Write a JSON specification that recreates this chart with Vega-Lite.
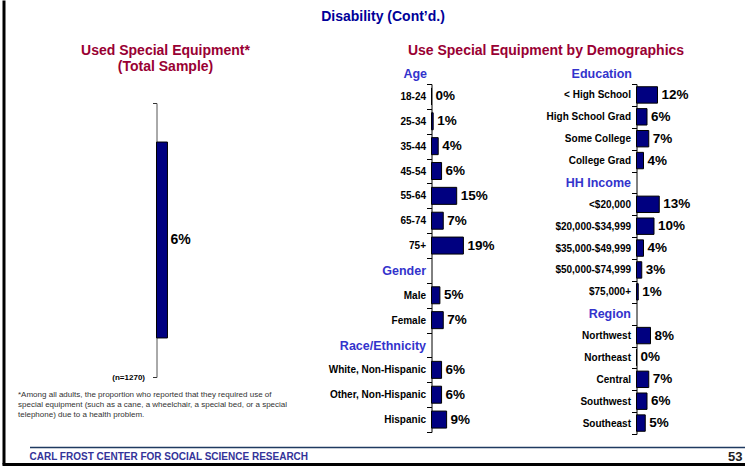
{
  "$schema": "https://vega.github.io/schema/vega-lite/v6.json",
  "background": "white",
  "padding": {"left": 3.5, "top": 10, "right": 0, "bottom": 0},
  "title": {"text": "Disability (Cont’d.)", "frame": "group", "anchor": "start", "align": "center", "dx": 226.5, "offset": 5, "baseline": "bottom", "fontSize": 14, "fontWeight": "bold", "color": "#000099", "font": "Liberation Sans"},
  "columns": 3,
  "spacing": {"column": 116, "row": 13},
  "bounds": "flush",
  "config": {"view": {"stroke": null}, "font": "Liberation Sans"},
  "concat": [
    {
      "width": 159,
      "height": 350,
      "data": {"values": [{"group": "Total Sample", "value": 0.06}]},
      "encoding": {
        "y": {"field": "group", "type": "nominal", "scale": {"range": [19, 293], "paddingInner": 0, "paddingOuter": 0},
              "axis": {"title": "(n=1270)", "titleAngle": 0, "titleX": -12, "titleY": 293, "titleAlign": "right", "titleBaseline": "middle", "titleFontSize": 8, "titleFontWeight": "bold", "titleColor": "#000000", "labels": false, "ticks": true, "tickBand": "extent", "tickSize": 4, "tickColor": "#333333", "domainColor": "#555555", "domainWidth": 1}}
      },
      "resolve": {"axis": {"x": "independent"}},
      "layer": [
        {"mark": {"type": "bar", "fill": "#000080", "stroke": "#000000", "strokeWidth": 1, "height": {"band": 0.715}},
         "encoding": {"x": {"field": "value", "type": "quantitative", "scale": {"domain": [0, 0.87]},
              "axis": {"orient": "top", "domain": false, "ticks": false, "labels": false, "grid": false, "title": ["Used Special Equipment*", "(Total Sample)"], "titleX": 8.5, "titleY": -41, "titleAlign": "center", "titleBaseline": "top", "titleAngle": 0, "titleFontSize": 14, "titleLineHeight": 16, "titleFontWeight": "bold", "titleColor": "#990033"}}}},
        {"mark": {"type": "text", "align": "left", "baseline": "middle", "dx": 3, "fontSize": 14, "fontWeight": "bold", "color": "#000000"},
         "encoding": {
           "x": {"field": "value", "type": "quantitative", "scale": {"domain": [0, 0.87]},
              "axis": {"orient": "bottom", "domain": false, "ticks": false, "labels": false, "grid": false, "title": ["*Among all adults, the proportion who reported that they required use of", "special equipment (such as a cane, a wheelchair, a special bed, or a special", "telephone) due to a health problem."], "titleX": -139, "titleY": -43.5, "titleAlign": "left", "titleBaseline": "top", "titleAngle": 0, "titleFontSize": 8, "titleFontWeight": "normal", "titleColor": "#333333", "titleLineHeight": 10}},
           "text": {"field": "value", "type": "quantitative", "format": ".0%"}}}
      ]
    },
    {
      "width": 89,
      "height": 348,
      "data": {"values": [
        {"cat": "18-24", "value": 0.00},
        {"cat": "25-34", "value": 0.01},
        {"cat": "35-44", "value": 0.04},
        {"cat": "45-54", "value": 0.06},
        {"cat": "55-64", "value": 0.15},
        {"cat": "65-74", "value": 0.07},
        {"cat": "75+", "value": 0.19},
        {"cat": "Male", "value": 0.05},
        {"cat": "Female", "value": 0.07},
        {"cat": "White, Non-Hispanic", "value": 0.06},
        {"cat": "Other, Non-Hispanic", "value": 0.06},
        {"cat": "Hispanic", "value": 0.09}
      ]},
      "encoding": {
        "y": {"field": "cat", "type": "nominal", "sort": null,
              "scale": {"domain": ["18-24", "25-34", "35-44", "45-54", "55-64", "65-74", "75+", "Gender", "Male", "Female", "Race/Ethnicity", "White, Non-Hispanic", "Other, Non-Hispanic", "Hispanic"], "paddingInner": 0, "paddingOuter": 0},
              "axis": {"title": null, "tickBand": "extent", "tickSize": 5, "tickColor": "#000000", "domainColor": "#000000", "domainWidth": 1, "labelPadding": 1, "labelLimit": 250, "labelFontWeight": "bold", "labelFont": "Liberation Sans",
                       "labelColor": {"condition": {"test": "indexof(['Gender','Race/Ethnicity'], datum.value) >= 0", "value": "#3333CC"}, "value": "#000000"},
                       "labelFontSize": {"condition": {"test": "indexof(['Gender','Race/Ethnicity'], datum.value) >= 0", "value": 12.5}, "value": 10}}}
      },
      "resolve": {"axis": {"x": "independent"}},
      "layer": [
        {"mark": {"type": "bar", "fill": "#000080", "stroke": "#000000", "strokeWidth": 1, "height": {"band": 0.684}},
         "encoding": {"x": {"field": "value", "type": "quantitative", "scale": {"domain": [0, 0.53]},
              "axis": {"orient": "top", "domain": false, "ticks": false, "labels": false, "grid": false, "title": "Use Special Equipment by Demographics", "titleX": 114, "titleY": -27, "titleAlign": "center", "titleBaseline": "bottom", "titleAngle": 0, "titleFontSize": 14, "titleFontWeight": "bold", "titleColor": "#990033"}}}},
        {"mark": {"type": "text", "align": "left", "baseline": "middle", "dx": 4, "fontSize": 13.5, "fontWeight": "bold", "color": "#000000"},
         "encoding": {
           "x": {"field": "value", "type": "quantitative", "scale": {"domain": [0, 0.53]},
              "axis": {"orient": "bottom", "domain": false, "ticks": false, "labels": false, "grid": false, "title": "Age", "titleX": -5, "titleY": -352, "titleAlign": "right", "titleBaseline": "bottom", "titleAngle": 0, "titleFontSize": 12.5, "titleFontWeight": "bold", "titleColor": "#3333CC"}},
           "text": {"field": "value", "type": "quantitative", "format": ".0%"}}}
      ]
    },
    {
      "width": 91,
      "height": 350,
      "data": {"values": [
        {"cat": "< High School", "value": 0.12},
        {"cat": "High School Grad", "value": 0.06},
        {"cat": "Some College", "value": 0.07},
        {"cat": "College Grad", "value": 0.04},
        {"cat": "<$20,000", "value": 0.13},
        {"cat": "$20,000-$34,999", "value": 0.10},
        {"cat": "$35,000-$49,999", "value": 0.04},
        {"cat": "$50,000-$74,999", "value": 0.03},
        {"cat": "$75,000+", "value": 0.01},
        {"cat": "Northwest", "value": 0.08},
        {"cat": "Northeast", "value": 0.00},
        {"cat": "Central", "value": 0.07},
        {"cat": "Southwest", "value": 0.06},
        {"cat": "Southeast", "value": 0.05}
      ]},
      "encoding": {
        "y": {"field": "cat", "type": "nominal", "sort": null,
              "scale": {"domain": ["< High School", "High School Grad", "Some College", "College Grad", "HH Income", "<$20,000", "$20,000-$34,999", "$35,000-$49,999", "$50,000-$74,999", "$75,000+", "Region", "Northwest", "Northeast", "Central", "Southwest", "Southeast"], "paddingInner": 0, "paddingOuter": 0},
              "axis": {"title": null, "tickBand": "extent", "tickSize": 5, "tickColor": "#000000", "domainColor": "#000000", "domainWidth": 1, "labelPadding": 1, "labelLimit": 250, "labelFontWeight": "bold", "labelFont": "Liberation Sans",
                       "labelColor": {"condition": {"test": "indexof(['HH Income','Region'], datum.value) >= 0", "value": "#3333CC"}, "value": "#000000"},
                       "labelFontSize": {"condition": {"test": "indexof(['HH Income','Region'], datum.value) >= 0", "value": 12.5}, "value": 10}}},
        "x": {"field": "value", "type": "quantitative", "scale": {"domain": [0, 0.52]},
              "axis": {"orient": "top", "domain": false, "ticks": false, "labels": false, "grid": false, "title": "Education", "titleX": -5, "titleY": -4, "titleAlign": "right", "titleBaseline": "bottom", "titleAngle": 0, "titleFontSize": 12.5, "titleFontWeight": "bold", "titleColor": "#3333CC"}}
      },
      "layer": [
        {"mark": {"type": "bar", "fill": "#000080", "stroke": "#000000", "strokeWidth": 1, "height": {"band": 0.75}}},
        {"mark": {"type": "text", "align": "left", "baseline": "middle", "dx": 4, "fontSize": 13.5, "fontWeight": "bold", "color": "#000000"},
         "encoding": {"text": {"field": "value", "type": "quantitative", "format": ".0%"}}}
      ]
    },
    {
      "width": 100,
      "height": 19,
      "resolve": {"scale": {"x": "independent", "y": "independent"}, "axis": {"x": "independent", "y": "independent"}},
      "layer": [
        {
          "data": {"values": [{"pos": "left", "label": "CARL FROST CENTER FOR SOCIAL SCIENCE RESEARCH"}]},
          "mark": {"type": "text", "align": "left", "baseline": "middle", "fontSize": 10, "fontWeight": "bold", "color": "#333399"},
          "encoding": {
            "x": {"field": "pos", "type": "nominal", "scale": {"type": "point", "domain": ["left", "right"], "range": [-127, 588], "padding": 0},
                  "axis": {"orient": "top", "domain": true, "domainColor": "#1F3A60", "domainWidth": 1.5, "ticks": false, "labels": false, "grid": false, "title": null}},
            "text": {"field": "label", "type": "nominal"}
          }
        },
        {
          "data": {"values": [{"pos": "right", "label": "53"}]},
          "mark": {"type": "text", "align": "right", "baseline": "middle", "dx": -2, "fontSize": 13, "fontWeight": "bold", "color": "#222222"},
          "encoding": {
            "x": {"field": "pos", "type": "nominal", "scale": {"type": "point", "domain": ["left", "right"], "range": [-127, 588], "padding": 0}, "axis": null},
            "text": {"field": "label", "type": "nominal"}
          }
        },
        {
          "data": {"values": [{"pos": "frame"}]},
          "mark": {"type": "point", "opacity": 0},
          "encoding": {
            "x": {"field": "pos", "type": "nominal", "scale": {"type": "point", "domain": ["frame"], "range": [-154.5, 588], "padding": 0},
                  "axis": {"orient": "bottom", "offset": -2, "domain": true, "domainColor": "#000000", "domainWidth": 3, "ticks": false, "labels": false, "grid": false, "title": null}},
            "y": {"field": "pos", "type": "nominal", "scale": {"type": "point", "domain": ["frame"], "range": [-447, 17], "padding": 0},
                  "axis": {"orient": "left", "offset": 153, "domain": true, "domainColor": "#000000", "domainWidth": 3, "ticks": false, "labels": false, "grid": false, "title": null}}
          }
        }
      ]
    }
  ]
}
